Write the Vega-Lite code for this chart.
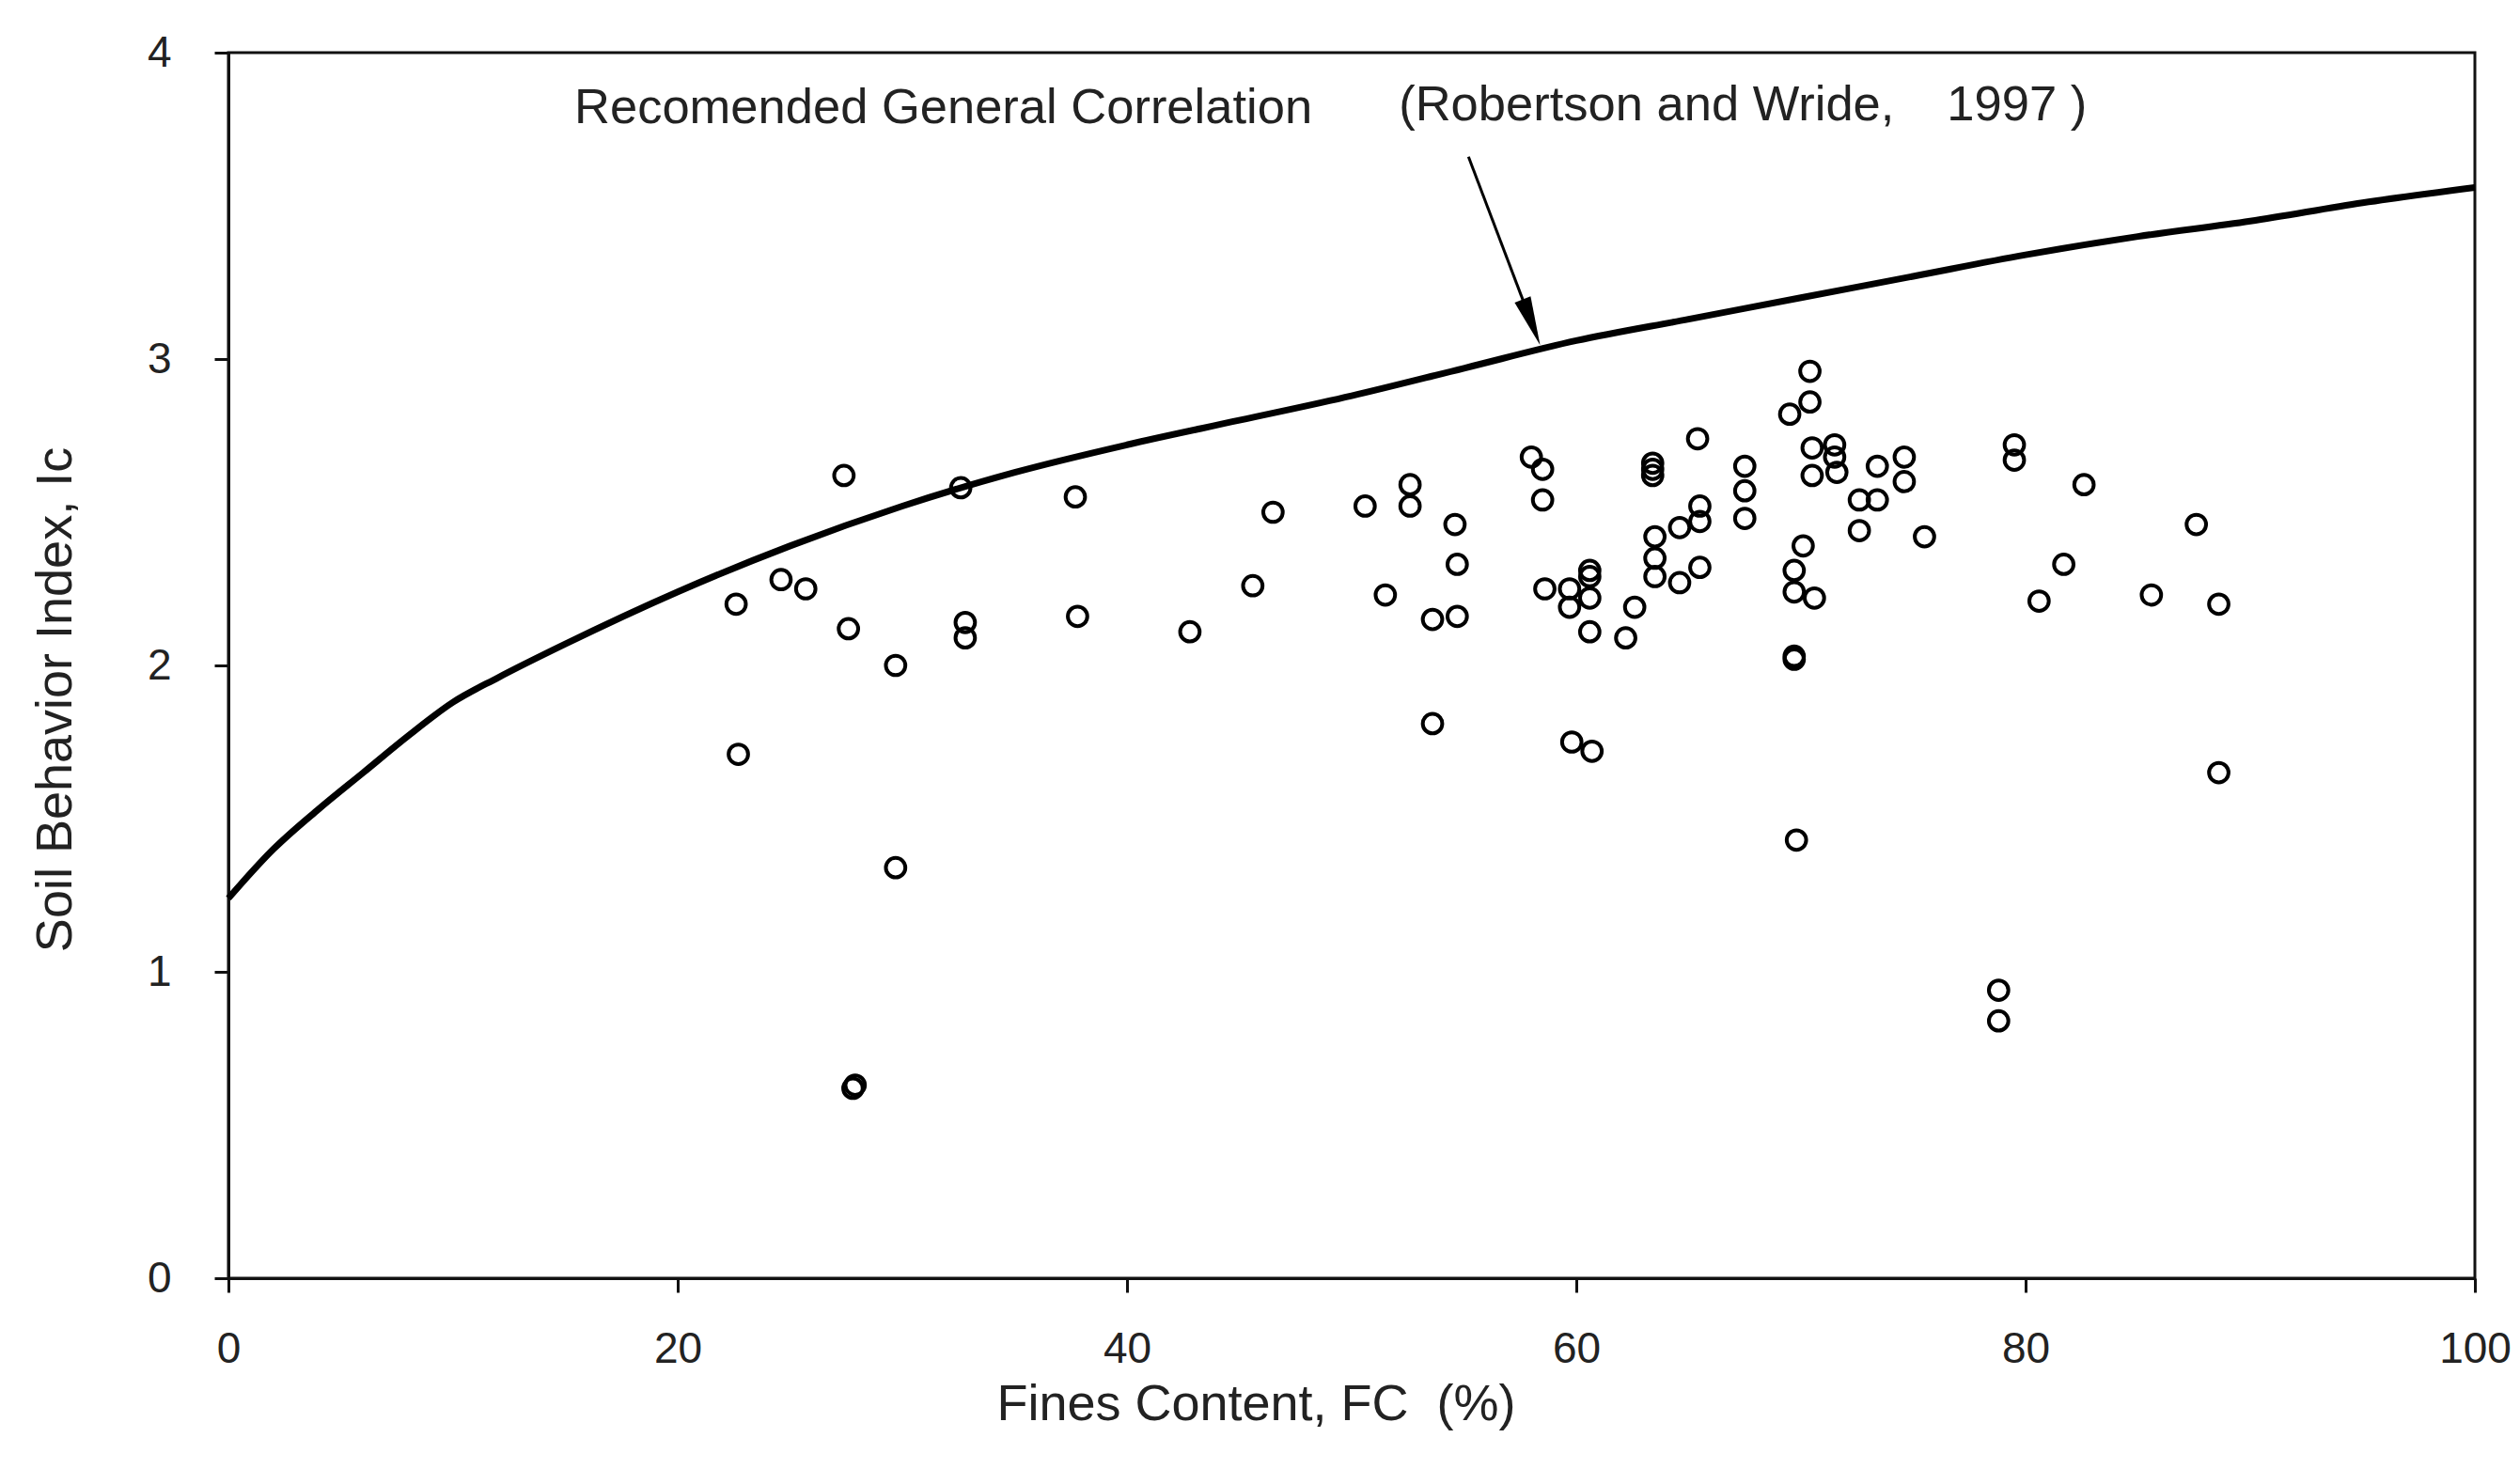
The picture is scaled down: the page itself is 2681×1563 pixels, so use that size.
{
  "$schema": "https://vega.github.io/schema/vega-lite/v6.json",
  "width": 2390,
  "height": 1304,
  "autosize": {"type": "none"},
  "padding": {"left": 243, "top": 56, "right": 48, "bottom": 203},
  "background": "white",
  "config": {
    "view": {"stroke": "#111", "strokeWidth": 3},
    "font": "Liberation Sans"
  },
  "datasets": {
    "curve": [
      {"fc": 0, "ic": 1.24}, {"fc": 2, "ic": 1.40}, {"fc": 4, "ic": 1.53}, {"fc": 6, "ic": 1.65},
      {"fc": 8, "ic": 1.77}, {"fc": 10, "ic": 1.88}, {"fc": 12, "ic": 1.96}, {"fc": 15, "ic": 2.07},
      {"fc": 20, "ic": 2.24}, {"fc": 25, "ic": 2.39}, {"fc": 30, "ic": 2.52}, {"fc": 35, "ic": 2.63},
      {"fc": 40, "ic": 2.72}, {"fc": 45, "ic": 2.80}, {"fc": 50, "ic": 2.88}, {"fc": 55, "ic": 2.97},
      {"fc": 60, "ic": 3.06}, {"fc": 65, "ic": 3.13}, {"fc": 70, "ic": 3.20}, {"fc": 75, "ic": 3.27},
      {"fc": 80, "ic": 3.34}, {"fc": 85, "ic": 3.40}, {"fc": 90, "ic": 3.45}, {"fc": 95, "ic": 3.51},
      {"fc": 100, "ic": 3.56}
    ],
    "points": [
      {"fc": 22.6, "ic": 2.20}, {"fc": 22.7, "ic": 1.71}, {"fc": 24.6, "ic": 2.28}, {"fc": 25.7, "ic": 2.25},
      {"fc": 27.4, "ic": 2.62}, {"fc": 27.6, "ic": 2.12}, {"fc": 27.8, "ic": 0.62}, {"fc": 27.9, "ic": 0.63},
      {"fc": 29.7, "ic": 2.00}, {"fc": 29.7, "ic": 1.34}, {"fc": 32.6, "ic": 2.58}, {"fc": 32.8, "ic": 2.14},
      {"fc": 32.8, "ic": 2.09}, {"fc": 37.7, "ic": 2.55}, {"fc": 37.8, "ic": 2.16}, {"fc": 42.8, "ic": 2.11},
      {"fc": 45.6, "ic": 2.26}, {"fc": 46.5, "ic": 2.50}, {"fc": 50.6, "ic": 2.52}, {"fc": 51.5, "ic": 2.23},
      {"fc": 52.6, "ic": 2.59}, {"fc": 52.6, "ic": 2.52}, {"fc": 53.6, "ic": 2.15}, {"fc": 53.6, "ic": 1.81},
      {"fc": 54.6, "ic": 2.46}, {"fc": 54.7, "ic": 2.33}, {"fc": 54.7, "ic": 2.16}, {"fc": 58.0, "ic": 2.68},
      {"fc": 58.5, "ic": 2.64}, {"fc": 58.5, "ic": 2.54}, {"fc": 58.6, "ic": 2.25}, {"fc": 59.7, "ic": 2.25},
      {"fc": 59.7, "ic": 2.19}, {"fc": 60.6, "ic": 2.31}, {"fc": 60.6, "ic": 2.29}, {"fc": 60.6, "ic": 2.22},
      {"fc": 60.6, "ic": 2.11}, {"fc": 59.8, "ic": 1.75}, {"fc": 60.7, "ic": 1.72}, {"fc": 62.2, "ic": 2.09},
      {"fc": 62.6, "ic": 2.19}, {"fc": 63.4, "ic": 2.66}, {"fc": 63.4, "ic": 2.64}, {"fc": 63.4, "ic": 2.62},
      {"fc": 63.5, "ic": 2.42}, {"fc": 63.5, "ic": 2.35}, {"fc": 63.5, "ic": 2.29}, {"fc": 64.6, "ic": 2.45},
      {"fc": 64.6, "ic": 2.27}, {"fc": 65.4, "ic": 2.74}, {"fc": 65.5, "ic": 2.52}, {"fc": 65.5, "ic": 2.47},
      {"fc": 65.5, "ic": 2.32}, {"fc": 67.5, "ic": 2.65}, {"fc": 67.5, "ic": 2.57}, {"fc": 67.5, "ic": 2.48},
      {"fc": 69.5, "ic": 2.82}, {"fc": 69.7, "ic": 2.31}, {"fc": 69.7, "ic": 2.24}, {"fc": 69.7, "ic": 2.02},
      {"fc": 69.7, "ic": 2.03}, {"fc": 69.8, "ic": 1.43}, {"fc": 70.1, "ic": 2.39}, {"fc": 70.4, "ic": 2.96},
      {"fc": 70.4, "ic": 2.86}, {"fc": 70.5, "ic": 2.71}, {"fc": 70.5, "ic": 2.62}, {"fc": 70.6, "ic": 2.22},
      {"fc": 71.5, "ic": 2.72}, {"fc": 71.5, "ic": 2.68}, {"fc": 71.6, "ic": 2.63}, {"fc": 72.6, "ic": 2.54},
      {"fc": 72.6, "ic": 2.44}, {"fc": 73.4, "ic": 2.65}, {"fc": 73.4, "ic": 2.54}, {"fc": 74.6, "ic": 2.68},
      {"fc": 74.6, "ic": 2.60}, {"fc": 75.5, "ic": 2.42}, {"fc": 78.8, "ic": 0.94}, {"fc": 78.8, "ic": 0.84},
      {"fc": 79.5, "ic": 2.72}, {"fc": 79.5, "ic": 2.67}, {"fc": 80.6, "ic": 2.21}, {"fc": 81.7, "ic": 2.33},
      {"fc": 82.6, "ic": 2.59}, {"fc": 85.6, "ic": 2.23}, {"fc": 87.6, "ic": 2.46}, {"fc": 88.6, "ic": 2.20},
      {"fc": 88.6, "ic": 1.65}
    ],
    "arrow": [{"fc": 55.2, "ic": 3.66, "fc2": 58.0, "ic2": 3.12}],
    "labels": [
      {"fc": 15.4, "ic": 3.77, "label": "Recomended General Correlation"},
      {"fc": 52.1, "ic": 3.78, "label": "(Robertson and Wride,"},
      {"fc": 76.5, "ic": 3.78, "label": "1997 )"}
    ]
  },
  "encoding": {
    "x": {
      "field": "fc", "type": "quantitative",
      "scale": {"domain": [0, 100], "nice": false, "zero": false},
      "title": "Fines Content, FC\u00a0\u00a0(%)",
      "axis": {
        "values": [0, 20, 40, 60, 80, 100], "format": "d", "grid": false, "labelFlush": false,
        "domainColor": "#111", "domainWidth": 3, "tickColor": "#111", "tickWidth": 3, "tickSize": 15,
        "labelFontSize": 46, "labelPadding": 38, "labelColor": "#222", "labelFont": "Liberation Sans",
        "titleFontSize": 54, "titleFontWeight": "normal", "titleColor": "#222", "titleFont": "Liberation Sans",
        "titleX": 1093, "titleY": 150, "titleBaseline": "alphabetic", "titleAlign": "center"
      }
    },
    "y": {
      "field": "ic", "type": "quantitative",
      "scale": {"domain": [0, 4], "nice": false, "zero": false},
      "title": "Soil Behavior Index, Ic",
      "axis": {
        "values": [0, 1, 2, 3, 4], "format": "d", "grid": false, "labelFlush": false,
        "domainColor": "#111", "domainWidth": 3, "tickColor": "#111", "tickWidth": 3, "tickSize": 15,
        "labelFontSize": 46, "labelPadding": 46, "labelColor": "#222", "labelFont": "Liberation Sans",
        "titleFontSize": 54, "titleFontWeight": "normal", "titleColor": "#222", "titleFont": "Liberation Sans",
        "titleX": -168, "titleY": 688, "titleAngle": -90, "titleBaseline": "alphabetic", "titleAlign": "center"
      }
    }
  },
  "layer": [
    {
      "data": {"name": "curve"},
      "mark": {"type": "line", "color": "#000", "strokeWidth": 7, "interpolate": "monotone"}
    },
    {
      "data": {"name": "points"},
      "mark": {"type": "point", "shape": "circle", "filled": false, "color": "#000", "size": 430, "strokeWidth": 4, "opacity": 1}
    },
    {
      "data": {"name": "arrow"},
      "mark": {"type": "rule", "color": "#000", "strokeWidth": 3},
      "encoding": {"x2": {"field": "fc2"}, "y2": {"field": "ic2"}}
    },
    {
      "data": {"name": "arrow"},
      "mark": {"type": "point", "shape": "M0,-1L0.35,1L-0.35,1Z", "filled": true, "color": "#000", "size": 2700, "angle": 159, "opacity": 1},
      "encoding": {"x": {"field": "fc2", "type": "quantitative"}, "y": {"field": "ic2", "type": "quantitative"}}
    },
    {
      "data": {"name": "labels"},
      "mark": {"type": "text", "align": "left", "baseline": "alphabetic", "fontSize": 52.5, "color": "#222", "font": "Liberation Sans"},
      "encoding": {"text": {"field": "label"}}
    }
  ]
}
